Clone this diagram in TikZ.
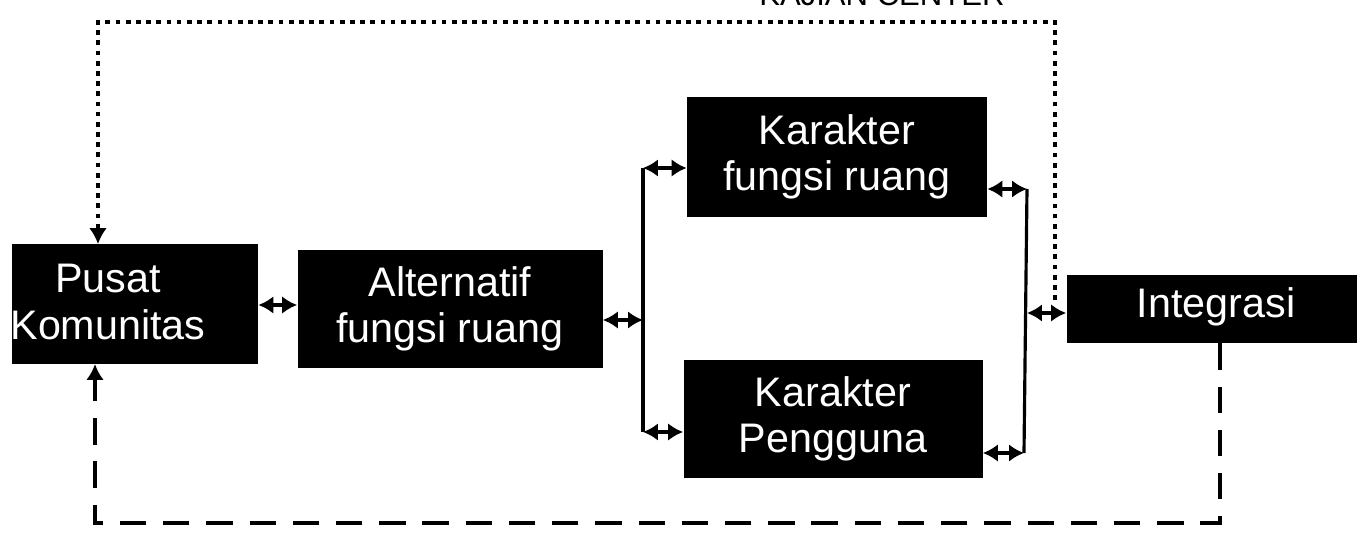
\documentclass[tikz,border=0pt]{standalone}
\usepackage{fontspec}
\setmainfont{Liberation Sans}
\usetikzlibrary{arrows.meta,positioning,calc}

\tikzset{
  blkbox/.style={fill=black,draw=none,inner sep=0pt},
  boxtext/.style={text=white,align=center,font=\fontsize{23.5}{26.5}\selectfont,inner sep=0pt},
  link/.style={line width=2.2pt,{Latex[length=8.5pt,width=10pt]}-{Latex[length=8.5pt,width=10pt]}},
  bus/.style={line width=1.8pt},
  dotline/.style={line width=2.7pt,dash pattern=on 2.7pt off 3.1pt},
  dashline/.style={line width=2.8pt,dash pattern=on 15pt off 9.6pt},
}

\begin{document}
\begin{tikzpicture}[x=0.02cm,y=-0.02cm]
\useasboundingbox (0,0) rectangle (1357,540);
% kotak-kotak
\node[blkbox,minimum width=246*0.02cm,minimum height=120*0.02cm] (pusat) at (135,304) {};
\node[boxtext] (pusattxt) at (108,302) {Pusat\\Komunitas};
\node[blkbox,minimum width=305*0.02cm,minimum height=118*0.02cm] (alt) at (450,309) {};
\node[boxtext] (alttxt) at (alt) {Alternatif\\fungsi ruang};
\node[blkbox,minimum width=300*0.02cm,minimum height=120*0.02cm] (kfr) at (837,157) {};
\node[boxtext] (kfrtxt) at (kfr) {Karakter\\fungsi ruang};
\node[blkbox,minimum width=299*0.02cm,minimum height=118*0.02cm] (kpg) at (833,419) {};
\node[boxtext] (kpgtxt) at (kpg) {Karakter\\Pengguna};
\node[blkbox,minimum width=313*0.02cm,minimum height=68*0.02cm] (integ) at (1223,309) {};
\node[boxtext] (integtxt) at (1216,307) {Integrasi};
% judul atas (terpotong)
\node[anchor=base east,inner sep=0pt,font=\fontsize{17.7}{20}\selectfont] (judul) at (1005,6) {KAJIAN CENTER};

% titik-titik bantu
\coordinate (lbt) at (643,168);
\coordinate (lbm) at (643,320);
\coordinate (lbb) at (643,432);
\coordinate (rbt) at (1027,189);
\coordinate (rbm) at (1027,313);
\coordinate (rbb) at (1024,453);
\coordinate (dotR) at (1055,300);
\coordinate (dotTR) at (1055,22);
\coordinate (dotTL) at (98,22);
\coordinate (pusatN) at (98,244);
\coordinate (dashR) at (1220,523);
\coordinate (dashL) at (95,523);
\coordinate (pusatS) at (95,364);

% hubungan
\draw[link] (pusat.east |- 0,305) -- (alt.west |- 0,305);
\draw[link] (alt.east |- lbm) -- (lbm);
\draw[bus] (lbt) -- (lbb);
\draw[link] (lbt) -- (kfr.west |- lbt);
\draw[link] (lbb) -- (kpg.west |- lbb);
\draw[bus] (rbt) -- (rbb);
\draw[link] (kfr.east |- rbt) -- (rbt);
\draw[link] (kpg.east |- rbb) -- (rbb);
\draw[link] (rbm) -- (integ.west |- rbm);

\draw[dotline] (dotR) -- (dotTR) -- (dotTL) -- ($(pusatN)+(0,-14)$);
\draw[-{Latex[length=9pt,width=10pt]},line width=1.5pt] ($(pusatN)+(0,-16)$) -- (pusatN);
\draw[dashline] (integ.south -| dashR) -- (dashR) -- (dashL) -- ($(pusatS)+(0,16)$);
\draw[-{Latex[length=9pt,width=10pt]},line width=2.6pt] ($(pusatS)+(0,18)$) -- (pusatS);
\end{tikzpicture}
\end{document}
